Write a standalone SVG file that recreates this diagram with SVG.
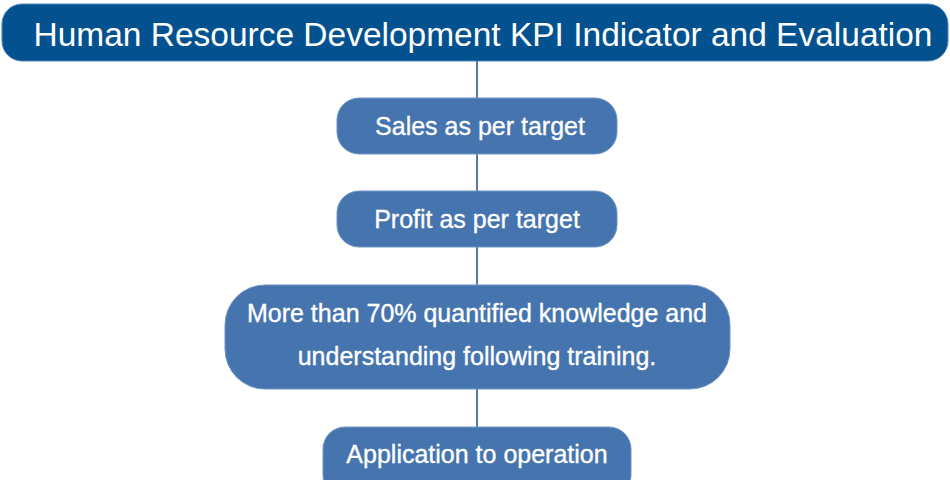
<svg xmlns="http://www.w3.org/2000/svg" width="950" height="480" viewBox="0 0 950 480">
  <style>
    .title-box { fill: #03528f; stroke: #4f86bb; stroke-width: 1; }
    .box { fill: #4574ae; stroke: #6e95c4; stroke-width: 1; }
    .title { font-family: "Liberation Sans", Arial, sans-serif; font-size: 34px; fill: #ffffff; text-anchor: middle; }
    .label { font-family: "Liberation Sans", Arial, sans-serif; font-size: 25px; fill: #ffffff; text-anchor: middle; stroke: #ffffff; stroke-width: 0.35; }
    .link { stroke: #1b4f86; stroke-width: 1.5; fill: none; }
  </style>

  <!-- vertical spine -->
  <g id="connectors">
    <line class="link" x1="477" y1="60" x2="477" y2="427"/>
  </g>

  <g id="title">
    <rect class="title-box" x="2" y="4" width="946" height="57" rx="20" ry="20"/>
    <text class="title" x="483" y="46" textLength="899" lengthAdjust="spacingAndGlyphs">Human Resource Development KPI Indicator and Evaluation</text>
  </g>

  <g id="sales">
    <rect class="box" x="337" y="98" width="280" height="56" rx="22" ry="22"/>
    <text class="label" x="480" y="135">Sales as per target</text>
  </g>

  <g id="profit">
    <rect class="box" x="337" y="191" width="280" height="56" rx="22" ry="22"/>
    <text class="label" x="477" y="228">Profit as per target</text>
  </g>

  <g id="knowledge">
    <rect class="box" x="225" y="285" width="505" height="104" rx="40" ry="40"/>
    <text class="label" x="477" y="322">More than 70% quantified knowledge and</text>
    <text class="label" x="477" y="365">understanding following training.</text>
  </g>

  <g id="application">
    <rect class="box" x="323" y="427" width="308" height="70" rx="22" ry="22"/>
    <text class="label" x="477" y="463">Application to operation</text>
  </g>
</svg>
